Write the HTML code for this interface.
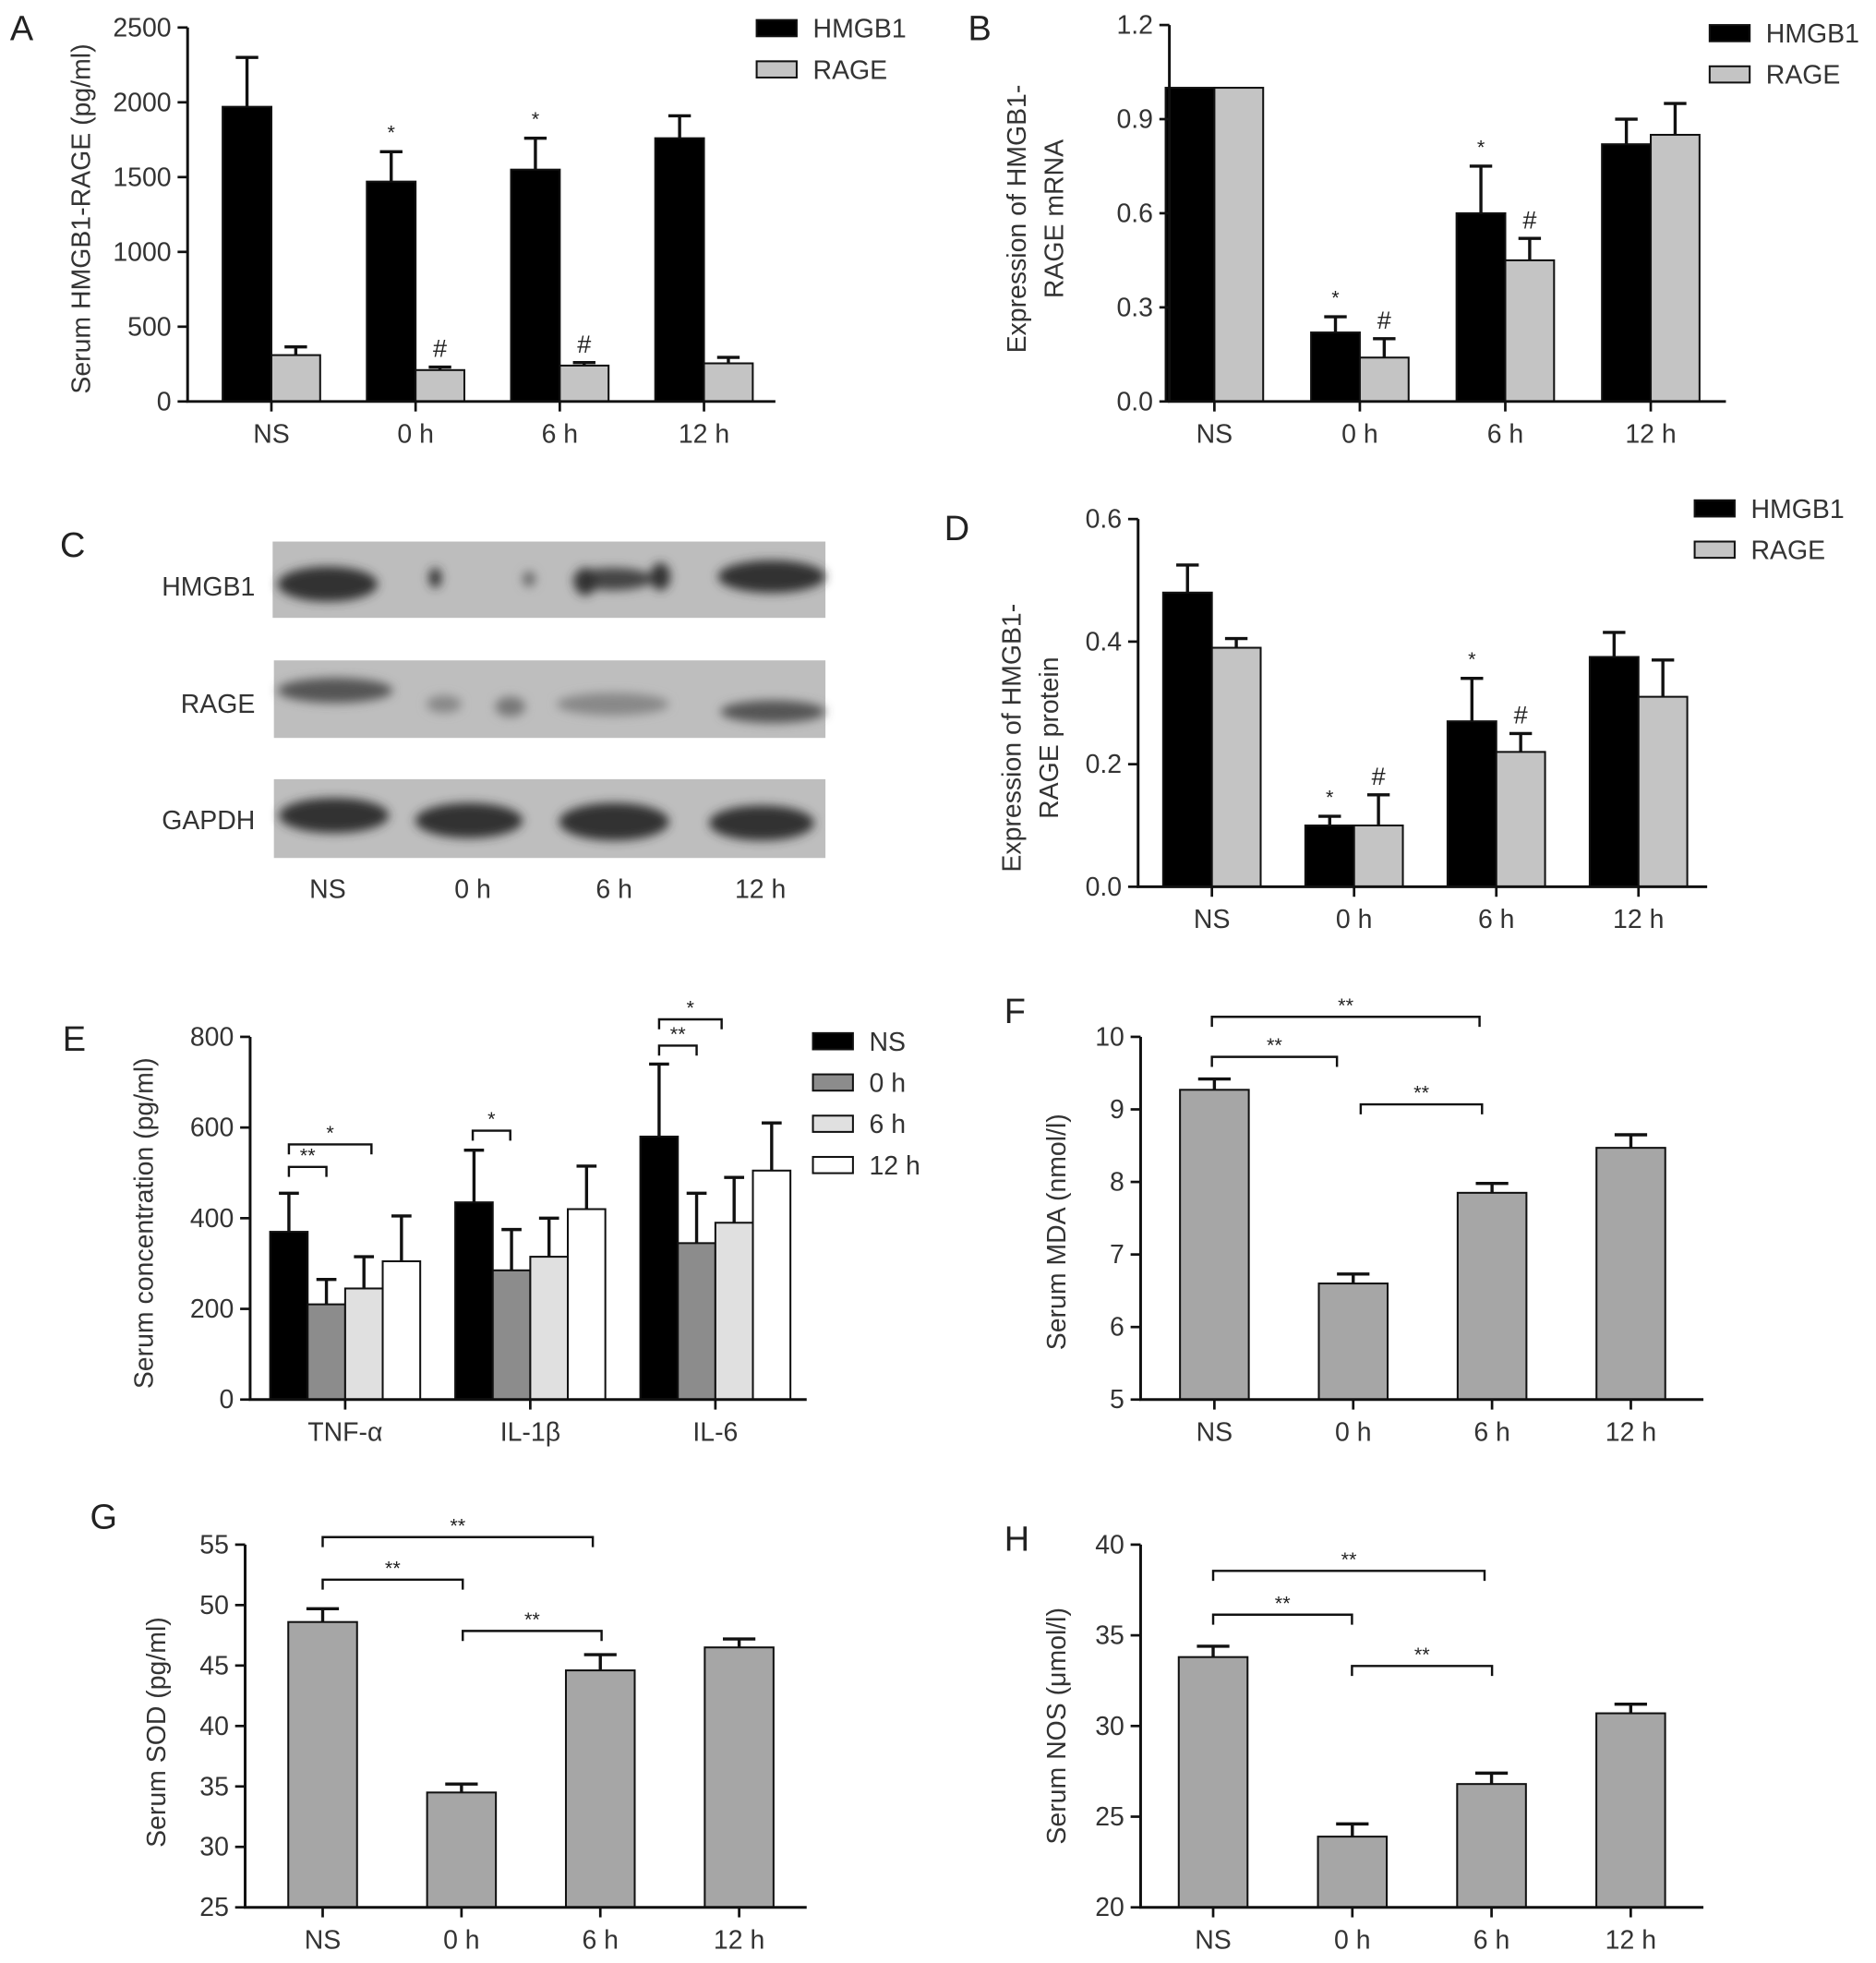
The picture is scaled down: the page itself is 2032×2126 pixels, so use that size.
<!DOCTYPE html>
<html><head><meta charset="utf-8"><style>
html,body{margin:0;padding:0;background:#fff}
svg{display:block}
text{font-family:"Liberation Sans",sans-serif}
</style></head><body>
<svg id="fig" xmlns="http://www.w3.org/2000/svg" width="2032" height="2126" viewBox="0 0 1500 1569.5" preserveAspectRatio="none">
<defs><filter id="blur" x="-20%" y="-50%" width="140%" height="200%"><feGaussianBlur stdDeviation="4"/></filter></defs>
<g>
<text x="48" y="445" font-size="28" fill="#222">C</text>
<rect x="218" y="433" width="442" height="61" fill="#bdbdbd"/>
<rect x="219" y="528" width="441" height="62" fill="#bebebe"/>
<rect x="219" y="623" width="441" height="63" fill="#bebebe"/>
<g filter="url(#blur)" fill="#333">
<ellipse cx="262" cy="467" rx="40" ry="14"/><ellipse cx="348" cy="462" rx="5" ry="8"/><ellipse cx="423" cy="463" rx="5" ry="6" fill="#666"/>
<ellipse cx="490" cy="463" rx="32" ry="9" fill="#444"/><ellipse cx="468" cy="465" rx="9" ry="11"/><ellipse cx="528" cy="461" rx="8" ry="11"/>
<ellipse cx="617" cy="461" rx="43" ry="13"/>
<ellipse cx="268" cy="552" rx="46" ry="10" fill="#555"/><ellipse cx="355" cy="563" rx="14" ry="7" fill="#888"/><ellipse cx="408" cy="565" rx="12" ry="8" fill="#777"/>
<ellipse cx="490" cy="563" rx="45" ry="9" fill="#888"/><ellipse cx="618" cy="569" rx="42" ry="9" fill="#555"/>
<ellipse cx="267" cy="652" rx="44" ry="14"/><ellipse cx="375" cy="656" rx="43" ry="14"/><ellipse cx="491" cy="657" rx="44" ry="15"/><ellipse cx="609" cy="658" rx="42" ry="14"/>
</g>
<g font-size="21" fill="#333" text-anchor="end">
<text x="204" y="476">HMGB1</text>
<text x="204" y="570">RAGE</text>
<text x="204" y="663">GAPDH</text>
</g>
<g font-size="21" fill="#333" text-anchor="middle">
<text x="262" y="718">NS</text>
<text x="378" y="718">0 h</text>
<text x="491" y="718">6 h</text>
<text x="608" y="718">12 h</text>
</g>
</g>
</svg>
<script>
// Panel A
const aCategories = ["NS","0 h","6 h","12 h"];
const aHmgb1 = [1970,1470,1550,1760];
const aHmgb1Err = [330,200,210,150];
const aRage = [310,210,240,255];
const aRageErr = [55,20,20,40];
const aTicks = [0,500,1000,1500,2000,2500];
// Panel B
const bCategories = ["NS","0 h","6 h","12 h"];
const bHmgb1 = [1.0,0.22,0.60,0.82];
const bHmgb1Err = [0,0.05,0.15,0.08];
const bRage = [1.0,0.14,0.45,0.85];
const bRageErr = [0,0.06,0.07,0.10];
const bTicks = ["0.0","0.3","0.6","0.9","1.2"];
// Panel D
const dCategories = ["NS","0 h","6 h","12 h"];
const dHmgb1 = [0.48,0.10,0.27,0.375];
const dHmgb1Err = [0.045,0.015,0.07,0.04];
const dRage = [0.39,0.10,0.22,0.31];
const dRageErr = [0.015,0.05,0.03,0.06];
const dTicks = ["0.0","0.2","0.4","0.6"];
// Panel E
const eCategories = ["TNF-α","IL-1β","IL-6"];
const eSeriesNames = ["NS","0 h","6 h","12 h"];
const eNS = [370,435,580];
const eNSErr = [85,115,160];
const e0h = [210,285,345];
const e0hErr = [55,90,110];
const e6h = [245,315,390];
const e6hErr = [70,85,100];
const e12h = [305,420,505];
const e12hErr = [100,95,105];
const eTicks = [0,200,400,600,800];
// Panel F
const fCategories = ["NS","0 h","6 h","12 h"];
const fValues = [9.27,6.6,7.85,8.47];
const fErr = [0.15,0.13,0.13,0.18];
const fTicks = [5,6,7,8,9,10];
// Panel G
const gCategories = ["NS","0 h","6 h","12 h"];
const gValues = [48.6,34.5,44.6,46.5];
const gErr = [1.1,0.7,1.3,0.7];
const gTicks = [25,30,35,40,45,50,55];
// Panel H
const hCategories = ["NS","0 h","6 h","12 h"];
const hValues = [33.8,23.9,26.8,30.7];
const hErr = [0.6,0.7,0.6,0.5];
const hTicks = [20,25,30,35,40];

const NS='http://www.w3.org/2000/svg';
const svg=document.getElementById('fig');
function mk(tag,attrs,parent,txt){const e=document.createElementNS(NS,tag);for(const k in attrs)e.setAttribute(k,attrs[k]);if(txt!=null)e.textContent=txt;(parent||svg).appendChild(e);return e;}

function chart(c){
  const g=mk('g',{});
  
  
  const y=v=>c.y0-(v-c.min)/(c.max-c.min)*(c.y0-c.y1);
  // label
  const lab=mk('text',{x:c.lx,y:c.ly,'font-size':28,fill:'#222'},g,c.letter);
  
  
  // title
  const tg=mk('text',{transform:`translate(${c.tx},${c.ty}) rotate(-90)`,'font-size':21,fill:'#333','text-anchor':'middle'},g);
  
  
  c.title.forEach((t,i)=>mk('tspan',{x:0,dy:i?30:0},tg,t));
  // bars
  const nS=c.series.length;
  c.cats.forEach((cat,i)=>{
    const cx=c.cx0+i*c.step;
    c.series.forEach((s,j)=>{
      const bx=cx-nS*c.bw/2+j*c.bw, v=s.vals[i], e=s.err[i];
      const top=y(v);
      const r=mk('rect',{x:bx,y:top,width:c.bw,height:c.y0-top,fill:s.color,stroke:'#111','stroke-width':1.5},g);
      
      
      if(e>0){const et=y(v+e),mx=bx+c.bw/2;
        const ep=mk('path',{d:`M${mx},${top}V${et}M${mx-c.capw},${et}H${mx+c.capw}`,stroke:'#111','stroke-width':2.5,fill:'none'},g);
        
        
        if(s.marks&&s.marks[i]){const mt=mk('text',{x:mx,y:et-(s.marks[i]=='#'?8:10),'font-size':s.marks[i]=='#'?20:16,fill:'#222','text-anchor':'middle'},g,s.marks[i]);
          
          }
      }
    });
    const tk=c.tickPerBar?null:mk('line',{x1:cx,x2:cx,y1:c.y0,y2:c.y0+8,stroke:'#111','stroke-width':2},g);
    const tl=mk('text',{x:cx,y:c.y0+33,'font-size':21,fill:'#333','text-anchor':'middle'},g,cat);
    
    
  });
  // axes
  const ax=mk('path',{d:`M${c.x0},${c.y1}V${c.y0}H${c.x1}`,stroke:'#111','stroke-width':2.2,fill:'none'},g);
  
  
  c.ticks.forEach(t=>{const yy=y(+t);
    mk('line',{x1:c.x0-8,x2:c.x0,y1:yy,y2:yy,stroke:'#111','stroke-width':2},g);
    const tt=mk('text',{x:c.x0-13,y:yy+7,'font-size':21,fill:'#333','text-anchor':'end'},g,t);
    
    });
  // legend
  if(c.legend){c.series.forEach((s,j)=>{const ly=c.legend.y+j*c.legend.dy;
    const lr=mk('rect',{x:c.legend.x,y:ly,width:32,height:13,fill:s.color,stroke:'#111','stroke-width':1.5},g);
    
    
    const lt=mk('text',{x:c.legend.x+45,y:ly+14,'font-size':21,fill:'#333'},g,s.label);
    
    });}
  // brackets
  (c.brackets||[]).forEach(b=>{
    const bp=mk('path',{d:`M${b[0]},${b[2]+8}V${b[2]}H${b[1]}V${b[2]+8}`,stroke:'#111','stroke-width':1.8,fill:'none'},g);
    
    
    const bt=mk('text',{x:(b[0]+b[1])/2,y:b[2]-4,'font-size':16,fill:'#222','text-anchor':'middle'},g,b[3]);
    
    
  });
}
const BLK='#000',GRY='#c4c4c4',MID='#a6a6a6';
chart({name:'panel-a-serum-hmgb1-rage',letter:'A',lx:8,ly:32,tx:72,ty:175,title:['Serum HMGB1-RAGE (pg/ml)'],
  x0:150,x1:620,y0:321,y1:22,min:0,max:2500,ticks:aTicks,cats:aCategories,cx0:217,step:115.3,bw:39,capw:9,
  series:[{key:'hmgb1',label:'HMGB1',color:BLK,vals:aHmgb1,err:aHmgb1Err,marks:[0,'*','*',0]},{key:'rage',label:'RAGE',color:GRY,vals:aRage,err:aRageErr,marks:[0,'#','#',0]}],
  legend:{x:605,y:16,dy:33}});
chart({name:'panel-b-mrna-expression',letter:'B',lx:774,ly:32,tx:820,ty:175,title:['Expression of HMGB1-','RAGE mRNA'],
  x0:935,x1:1380,y0:321,y1:20,min:0,max:1.2,ticks:bTicks,cats:bCategories,cx0:971,step:116.3,bw:39,capw:9,
  series:[{key:'hmgb1',label:'HMGB1',color:BLK,vals:bHmgb1,err:bHmgb1Err,marks:[0,'*','*',0]},{key:'rage',label:'RAGE',color:GRY,vals:bRage,err:bRageErr,marks:[0,'#','#',0]}],
  legend:{x:1367,y:20,dy:33}});
chart({name:'panel-d-protein-expression',letter:'D',lx:755,ly:432,tx:816,ty:590,title:['Expression of HMGB1-','RAGE protein'],
  x0:910,x1:1365,y0:709,y1:415,min:0,max:0.6,ticks:dTicks,cats:dCategories,cx0:969,step:113.7,bw:39,capw:9,
  series:[{key:'hmgb1',label:'HMGB1',color:BLK,vals:dHmgb1,err:dHmgb1Err,marks:[0,'*','*',0]},{key:'rage',label:'RAGE',color:GRY,vals:dRage,err:dRageErr,marks:[0,'#','#',0]}],
  legend:{x:1355,y:400,dy:33}});
chart({name:'panel-e-serum-cytokines',letter:'E',lx:50,ly:840,tx:122,ty:978,title:['Serum concentration (pg/ml)'],
  x0:200,x1:645,y0:1119,y1:829,min:0,max:800,ticks:eTicks,cats:eCategories,cx0:276,step:148,bw:30,capw:8,
  series:[{key:'ns',label:eSeriesNames[0],color:BLK,vals:eNS,err:eNSErr},{key:'0h',label:eSeriesNames[1],color:'#8c8c8c',vals:e0h,err:e0hErr},
    {key:'6h',label:eSeriesNames[2],color:'#e0e0e0',vals:e6h,err:e6hErr},{key:'12h',label:eSeriesNames[3],color:'#fff',vals:e12h,err:e12hErr}],
  legend:{x:650,y:826,dy:33},
  brackets:[[231,261,933,'**'],[231,297,915,'*'],[378,408,904,'*'],[527,557,836,'**'],[527,577,815,'*']]});
chart({name:'panel-f-serum-mda',letter:'F',lx:803,ly:818,tx:852,ty:985,title:['Serum MDA (nmol/l)'],
  x0:912,x1:1362,y0:1119,y1:829,min:5,max:10,ticks:fTicks,cats:fCategories,cx0:971,step:111,bw:55,capw:13,
  series:[{key:'mda',label:'MDA',color:MID,vals:fValues,err:fErr}],
  brackets:[[969,1069,845,'**'],[969,1183,813,'**'],[1088,1185,883,'**']]});
chart({name:'panel-g-serum-sod',letter:'G',lx:72,ly:1222,tx:132,ty:1385,title:['Serum SOD (pg/ml)'],
  x0:196,x1:645,y0:1525,y1:1235,min:25,max:55,ticks:gTicks,cats:gCategories,cx0:258,step:111,bw:55,capw:13,
  series:[{key:'sod',label:'SOD',color:MID,vals:gValues,err:gErr}],
  brackets:[[258,370,1263,'**'],[258,474,1229,'**'],[370,481,1304,'**']]});
chart({name:'panel-h-serum-nos',letter:'H',lx:803,ly:1240,tx:852,ty:1380,title:['Serum NOS (μmol/l)'],
  x0:912,x1:1362,y0:1525,y1:1235,min:20,max:40,ticks:hTicks,cats:hCategories,cx0:970,step:111.3,bw:55,capw:13,
  series:[{key:'nos',label:'NOS',color:MID,vals:hValues,err:hErr}],
  brackets:[[970,1081,1291,'**'],[970,1187,1256,'**'],[1081,1193,1332,'**']]});
</script>
</body></html>
